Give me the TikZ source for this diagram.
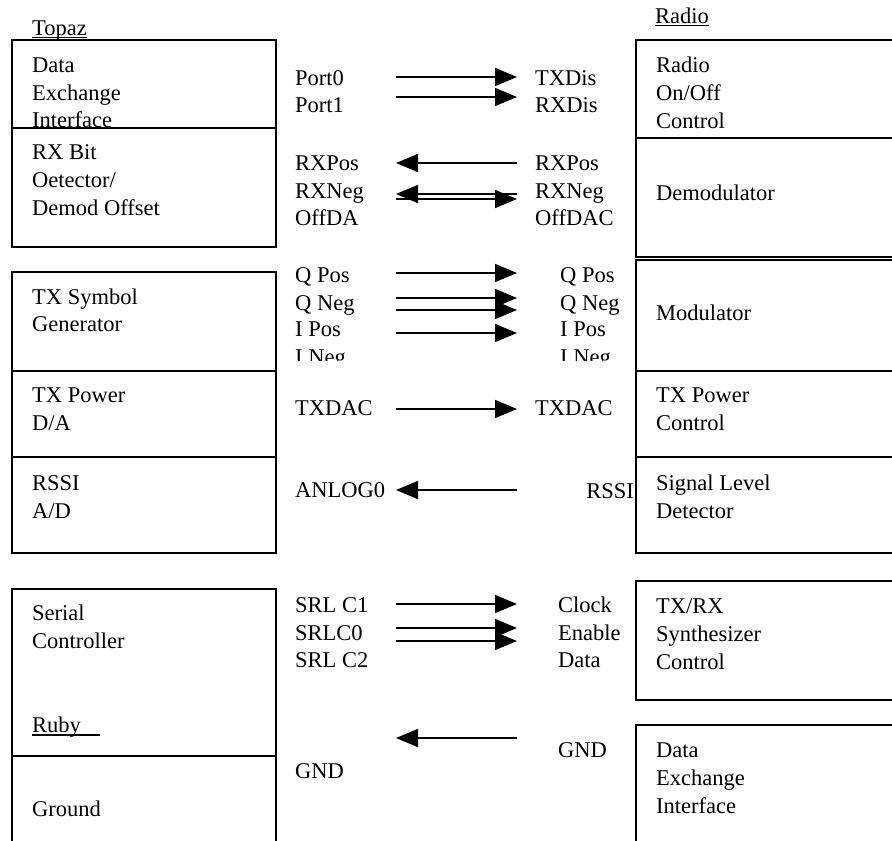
\documentclass[tikz,border=0pt]{standalone}
\usepackage{fontspec}
\setmainfont{Liberation Serif}
\usetikzlibrary{arrows.meta}
\tikzset{
  box/.style={draw, line width=1.4pt},
  lbl/.style={anchor=base west, inner sep=0pt, font=\fontsize{22.5}{26}\selectfont},
  lblr/.style={lbl, anchor=base east},
  sig/.style={line width=1.6pt, -{Triangle[length=22pt,width=18pt]}},
  uline/.style={line width=1.3pt}
}
\begin{document}
\begin{tikzpicture}[x=1pt,y=-1pt]
\useasboundingbox (0,0) rectangle (892,841);
\fill[white] (0,0) rectangle (892,841);
% ---------- left column boxes ----------
\draw[box] (12,40) rectangle (276,128);
\draw[box] (12,128) rectangle (276,247);
\draw[box] (12,272) rectangle (276,371);
\draw[box] (12,371) rectangle (276,457);
\draw[box] (12,457) rectangle (276,553);
\draw[box] (12,589) rectangle (276,756);
\draw[box] (12,850) -- (12,756) -- (276,756) -- (276,850);
% ---------- right column boxes ----------
\draw[box] (900,40) -- (636,40) -- (636,138) -- (900,138);
\draw[box] (900,138) -- (636,138) -- (636,257) -- (900,257);
\draw[box] (900,260) -- (636,260) -- (636,371) -- (900,371);
\draw[box] (636,371) -- (636,457) -- (900,457);
\draw[box] (636,457) -- (636,553) -- (900,553);
\draw[box] (900,581) -- (636,581) -- (636,700) -- (900,700);
\draw[box] (900,725) -- (636,725) -- (636,850);
% ---------- headers ----------
\node[lbl] (topaz) at (32,35) {Topaz};
\draw[uline] ([yshift=-2.5pt]topaz.base west) -- ([yshift=-2.5pt]topaz.base east);
\node[lbl] (radio) at (655,23) {Radio};
\draw[uline] ([yshift=-2.5pt]radio.base west) -- ([yshift=-2.5pt]radio.base east);
% ---------- left box texts ----------
\node[lbl] (l1a) at (32,72) {Data};
\node[lbl] (l1b) at (32,100) {Exchange};
\node[lbl] (l1c) at (32,127) {Interface};
\node[lbl] (l2a) at (32,159) {RX Bit};
\node[lbl] (l2b) at (32,187) {Oetector/};
\node[lbl] (l2c) at (32,215) {Demod Offset};
\node[lbl] (l3a) at (32,304) {TX Symbol};
\node[lbl] (l3b) at (32,331) {Generator};
\node[lbl] (l4a) at (32,402) {TX Power};
\node[lbl] (l4b) at (32,430) {D/A};
\node[lbl] (l5a) at (32,490) {RSSI};
\node[lbl] (l5b) at (32,518) {A/D};
\node[lbl] (l6a) at (32,620) {Serial};
\node[lbl] (l6b) at (32,648) {Controller};
\node[lbl] (ruby) at (32,732) {Ruby};
\draw[uline] ([yshift=-3pt]ruby.base west) -- ++(68,0);
\node[lbl] (l7a) at (32,816) {Ground};
% ---------- right box texts ----------
\node[lbl] (r1a) at (656,72) {Radio};
\node[lbl] (r1b) at (656,100) {On/Off};
\node[lbl] (r1c) at (656,128) {Control};
\node[lbl] (r2a) at (656,200) {Demodulator};
\node[lbl] (r3a) at (656,320) {Modulator};
\node[lbl] (r4a) at (656,402) {TX Power};
\node[lbl] (r4b) at (656,430) {Control};
\node[lbl] (r5a) at (656,490) {Signal Level};
\node[lbl] (r5b) at (656,518) {Detector};
\node[lbl] (r6a) at (656,613) {TX/RX};
\node[lbl] (r6b) at (656,641) {Synthesizer};
\node[lbl] (r6c) at (656,669) {Control};
\node[lbl] (r7a) at (656,757) {Data};
\node[lbl] (r7b) at (656,785) {Exchange};
\node[lbl] (r7c) at (656,813) {Interface};
% ---------- signal labels, left ----------
\node[lbl] (p0) at (295,85) {Port0};
\node[lbl] (p1) at (295,112) {Port1};
\node[lbl] (rxpl) at (295,170) {RXPos};
\node[lbl] (rxnl) at (295,198) {RXNeg};
\node[lbl] (offl) at (295,225) {OffDA};
\node[lbl] (qpl) at (295,282) {Q Pos};
\node[lbl] (qnl) at (295,310) {Q Neg};
\node[lbl] (ipl) at (295,336) {I Pos};
\node[lbl] (txdl) at (295,415) {TXDAC};
\node[lbl] (anl) at (295,497) {ANLOG0};
\node[lbl] (s1) at (295,612) {SRL C1};
\node[lbl] (s0) at (295,640) {SRLC0};
\node[lbl] (s2) at (295,667) {SRL C2};
\node[lbl] (gndl) at (295,778) {GND};
% ---------- signal labels, right ----------
\node[lbl] (txdis) at (535,85) {TXDis};
\node[lbl] (rxdis) at (535,112) {RXDis};
\node[lbl] (rxpr) at (535,170) {RXPos};
\node[lbl] (rxnr) at (535,198) {RXNeg};
\node[lbl] (offr) at (535,225) {OffDAC};
\node[lbl] (qpr) at (560,282) {Q Pos};
\node[lbl] (qnr) at (560,310) {Q Neg};
\node[lbl] (ipr) at (560,336) {I Pos};
\node[lbl] (txdr) at (535,415) {TXDAC};
\node[lblr] (rssir) at (634,498) {RSSI};
\node[lbl] (clk) at (558,612) {Clock};
\node[lbl] (ena) at (558,640) {Enable};
\node[lbl] (dat) at (558,667) {Data};
\node[lbl] (gndr) at (558,757) {GND};
% ---------- clipped I Neg labels ----------
\begin{scope}
\clip (282,250) rectangle (632,360);
\node[lbl] (inl) at (295,364) {I Neg};
\node[lbl] (inr) at (560,364) {I Neg};
\end{scope}
% ---------- arrow end points ----------
\foreach \n/\y in {a/77,b/97,c/163,d/194,e/199,f/273,g/298,h/310,i/333,j/409,k/490,l/604,m/628,n/641,o/738}{
  \coordinate (\n L) at (396,\y);
  \coordinate (\n R) at (517,\y);
}
% ---------- arrows ----------
\draw[sig] (aL) -- (aR);
\draw[sig] (bL) -- (bR);
\draw[sig] (cR) -- (cL);
\draw[sig] (dR) -- (dL);
\draw[sig] (eL) -- (eR);
\draw[sig] (fL) -- (fR);
\draw[sig] (gL) -- (gR);
\draw[sig] (hL) -- (hR);
\draw[sig] (iL) -- (iR);
\draw[sig] (jL) -- (jR);
\draw[sig] (kR) -- (kL);
\draw[sig] (lL) -- (lR);
\draw[sig] (mL) -- (mR);
\draw[sig] (nL) -- (nR);
\draw[sig] (oR) -- (oL);
\end{tikzpicture}
\end{document}
